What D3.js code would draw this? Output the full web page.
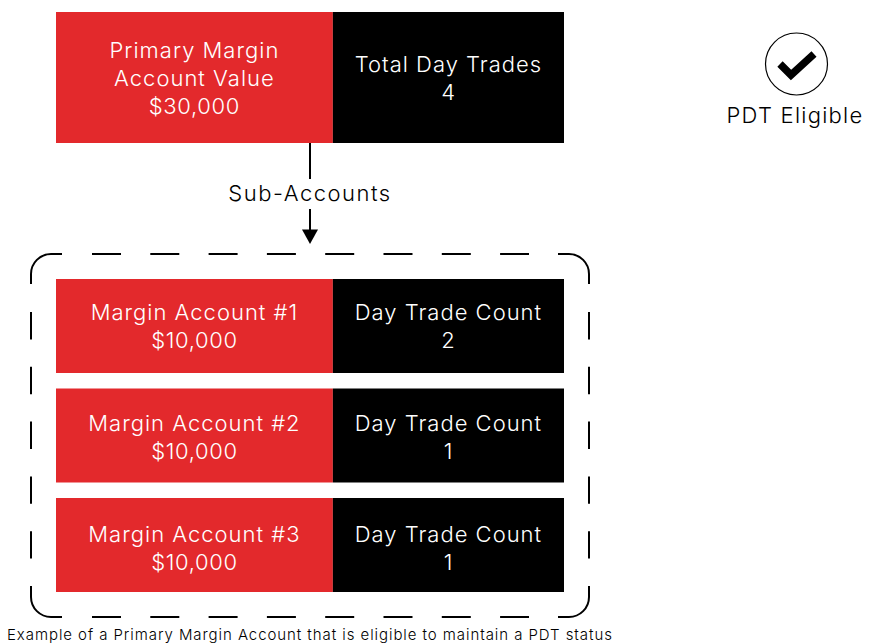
<!DOCTYPE html>
<html>
<head>
<meta charset="utf-8">
<script src="https://cdnjs.cloudflare.com/ajax/libs/d3/7.8.5/d3.min.js"></script>
<style>
html, body { margin: 0; padding: 0; background: #fff; }
text { font-family: "Inter", "Open Sans", sans-serif; font-weight: 350; }
</style>
</head>
<body>
<svg id="chart"></svg>
<script>
const accountLabels = ["Margin Account #1", "Margin Account #2", "Margin Account #3"];
const accountValues = ["$10,000", "$10,000", "$10,000"];
const dayTradeCounts = [2, 1, 1];
const primaryLines = ["Primary Margin", "Account Value", "$30,000"];
const totalLines = ["Total Day Trades", "4"];
const countHeader = "Day Trade Count";
const arrowLabel = "Sub-Accounts";
const statusLabel = "PDT Eligible";
const caption = "Example of a Primary Margin Account that is eligible to maintain a PDT status";

const red = "#e3292c";
const width = 874, height = 644;

const svg = d3.select("#chart")
    .attr("width", width)
    .attr("height", height)
    .style("display", "block");

// share of the row given to the red part and the black part
const x = d3.scaleLinear().domain([0, 1]).range([56, 564]);
const split = 0.545;

const rowY = d3.scaleBand()
    .domain(accountLabels)
    .range([279, 592])
    .paddingInner(0.1416);

// first text baseline of each row, the text steps a bit wider than the boxes
const rowTextY = d3.scalePoint()
    .domain(accountLabels)
    .range([320, 542]);

function multiline(g, lines, cx, firstY) {
    g.selectAll(null)
        .data(lines)
        .enter()
        .append("text")
        .attr("x", cx)
        .attr("y", (d, i) => firstY + i * 28)
        .attr("text-anchor", "middle")
        .attr("fill", "#fff")
        .style("font-size", "22px")
        .style("letter-spacing", d => /^[$\d]/.test(d) ? "0.65px" : "1px")
        .text(d => d);
}

function splitBox(y, h, left, right, leftY, rightY) {
    const g = svg.append("g");
    g.append("rect").attr("x", x(0)).attr("y", y)
        .attr("width", x(split) - x(0)).attr("height", h).attr("fill", red);
    g.append("rect").attr("x", x(split)).attr("y", y)
        .attr("width", x(1) - x(split)).attr("height", h).attr("fill", "#000");
    multiline(g, left, (x(0) + x(split)) / 2, leftY);
    multiline(g, right, (x(split) + x(1)) / 2, rightY);
}

// top box
splitBox(12, 131, primaryLines, totalLines, 58, 72);

// sub account rows
accountLabels.forEach((label, i) => {
    splitBox(rowY(label), rowY.bandwidth(), [label, accountValues[i]],
        [countHeader, dayTradeCounts[i]], rowTextY(label), rowTextY(label));
});

// arrow between the top box and the group
svg.append("line").attr("x1", 310).attr("x2", 310).attr("y1", 143).attr("y2", 179)
    .attr("stroke", "#000").attr("stroke-width", 2);
svg.append("line").attr("x1", 310).attr("x2", 310).attr("y1", 209).attr("y2", 232)
    .attr("stroke", "#000").attr("stroke-width", 2);
svg.append("path").attr("d", "M302,229.5L318,229.5L310,244Z").attr("fill", "#000");
svg.append("text").attr("x", 310).attr("y", 201).attr("text-anchor", "middle")
    .attr("fill", "#000").style("font-size", "22px").style("letter-spacing", "1.5px")
    .text(arrowLabel);

// dashed group outline, corners drawn solid and sides dashed
const outline = svg.append("g").attr("fill", "none").attr("stroke", "#000").attr("stroke-width", 2);
const L = 31, R = 589, T = 254, B = 617, r = 20;
outline.append("path").attr("d", `M${L},284V${T + r}A${r},${r} 0 0 1 ${L + r},${T}H62`);
outline.append("path").attr("d", `M${R},284V${T + r}A${r},${r} 0 0 0 ${R - r},${T}H558`);
outline.append("path").attr("d", `M${L},586V${B - r}A${r},${r} 0 0 0 ${L + r},${B}H62`);
outline.append("path").attr("d", `M${R},586V${B - r}A${r},${r} 0 0 1 ${R - r},${B}H558`);
[T, B].forEach(y => outline.append("line")
    .attr("x1", 92).attr("x2", 529).attr("y1", y).attr("y2", y)
    .attr("stroke-dasharray", "29 29.3"));
[L, R].forEach(xx => outline.append("line")
    .attr("x1", xx).attr("x2", xx).attr("y1", 312).attr("y2", 559)
    .attr("stroke-dasharray", "27.4 27.4"));

// eligible badge
svg.append("circle").attr("cx", 796.5).attr("cy", 64).attr("r", 31)
    .attr("fill", "#fff").attr("stroke", "#000").attr("stroke-width", 1.2);
svg.append("path").attr("d", "M780,64L791,75L814,54")
    .attr("fill", "none").attr("stroke", "#000").attr("stroke-width", 7.5);
svg.append("text").attr("x", 795).attr("y", 123).attr("text-anchor", "middle")
    .attr("fill", "#000").style("font-size", "22px").style("letter-spacing", "1.25px")
    .text(statusLabel);

svg.append("text").attr("x", 7).attr("y", 640)
    .attr("fill", "#000").style("font-size", "15px").style("letter-spacing", "0.93px")
    .text(caption);
</script>
</body>
</html>
